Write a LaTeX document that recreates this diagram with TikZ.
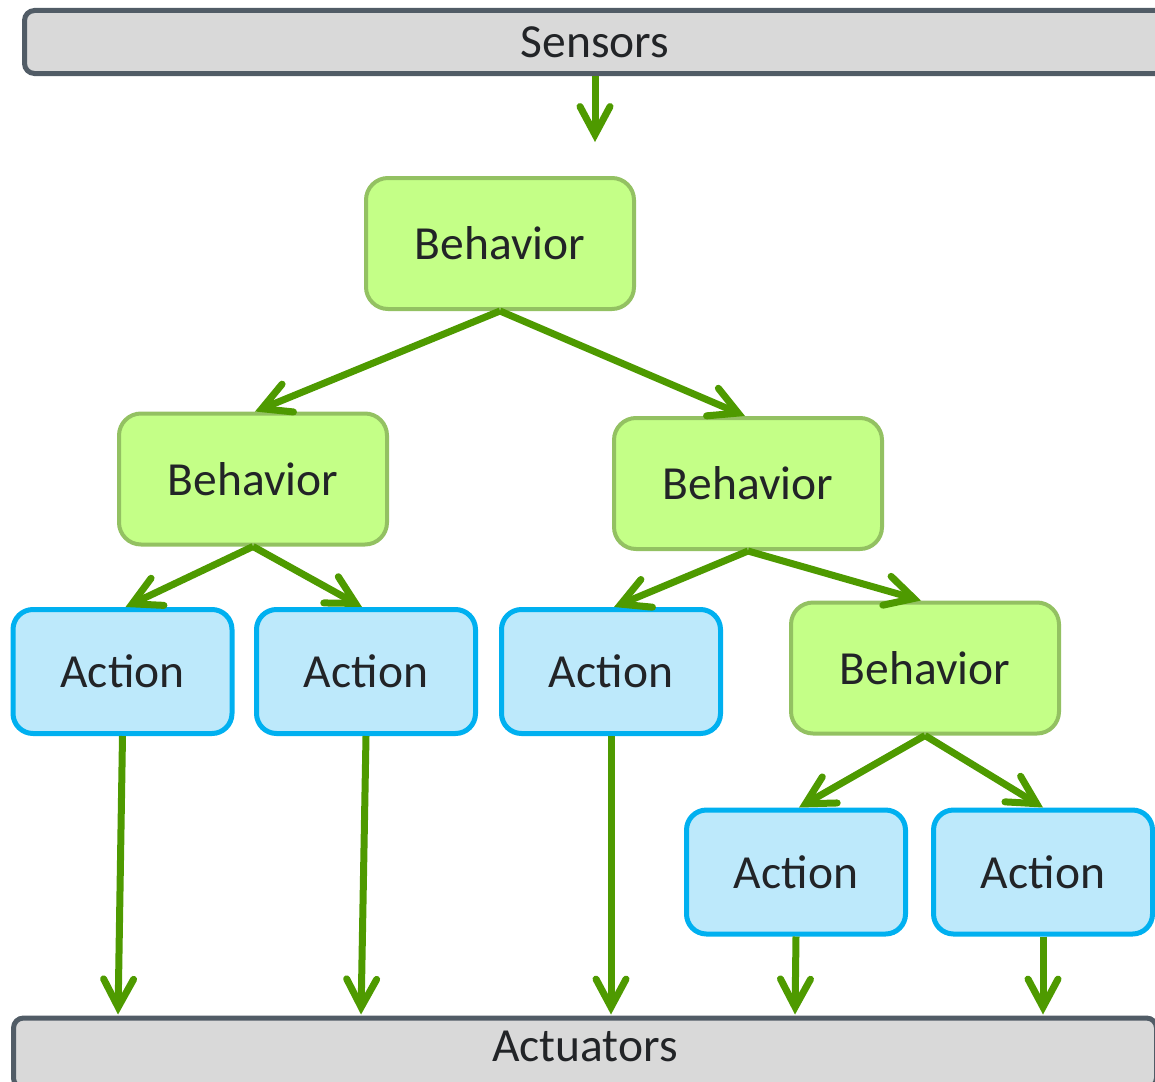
\documentclass[tikz,border=0pt]{standalone}
\usepackage{fontspec}
\setmainfont{Carlito}
\usetikzlibrary{arrows.meta}
\definecolor{arrowgreen}{HTML}{4E9A00}
\definecolor{behfill}{HTML}{C4FF87}
\definecolor{behdraw}{HTML}{93C162}
\definecolor{actfill}{HTML}{BDE9FB}
\definecolor{actdraw}{HTML}{00B0F0}
\definecolor{barfill}{HTML}{D9D9D9}
\definecolor{bardraw}{HTML}{515C66}
\definecolor{txt}{HTML}{222427}
\tikzset{
  every node/.style={font=\fontsize{47.5}{52}\selectfont, text=txt},
  behbox/.style={draw=behdraw, fill=behfill, line width=4pt, rounded corners=22pt,
    minimum width=268pt, minimum height=131pt, inner sep=0pt},
  actbox/.style={draw=actdraw, fill=actfill, line width=5pt, rounded corners=20pt,
    minimum width=219pt, minimum height=124pt, inner sep=0pt},
  barbox/.style={draw=bardraw, fill=barfill, line width=5pt, rounded corners=10pt, inner sep=0pt},
  conn/.style={draw=arrowgreen, line width=7pt,
    -{Straight Barb[length=28pt, width=30pt, line cap=round]}}
}
\begin{document}
\begin{tikzpicture}[x=1pt, y=-1pt]
\useasboundingbox (0,0) rectangle (1155,1081);
\clip (0,0) rectangle (1155,1081);
% bars
\node[barbox, minimum width=1141pt, minimum height=63pt] (sens) at (595,42) {Sensors};
\node[barbox, minimum width=1143pt, minimum height=70pt, text height=31pt, text depth=15pt] (act) at (585,1053) {Actuators};
% behaviors
\node[behbox] (b0) at (500,243.5) {Behavior};
\node[behbox] (b1) at (253,479) {Behavior};
\node[behbox] (b2) at (748,483.5) {Behavior};
\node[behbox] (b3) at (925,668) {Behavior};
% actions
\node[actbox] (a1) at (122.5,671.5) {Action};
\node[actbox] (a2) at (366,671.5) {Action};
\node[actbox] (a3) at (611,671.5) {Action};
\node[actbox] (a4) at (796,872) {Action};
\node[actbox] (a5) at (1043,872) {Action};
% free end / targets
\coordinate (s0) at (595,142);
\coordinate (t1) at (118,0);
\coordinate (t2) at (361,0);
\coordinate (t3) at (611,0);
\coordinate (t4) at (795,0);
\coordinate (t5) at (1043,0);
% connectors
\draw[conn] (sens.south -| s0) -- (s0);
\draw[conn] (b0.south) -- ([xshift=2pt]b1.north);
\draw[conn] (b0.south) -- ([xshift=-3pt]b2.north);
\draw[conn] (b1.south) -- ([xshift=3pt]a1.north);
\draw[conn] (b1.south) -- ([xshift=-4pt]a2.north);
\draw[conn] (b2.south) -- ([xshift=3pt]a3.north);
\draw[conn] (b2.south) -- ([xshift=-4pt]b3.north);
\draw[conn] (b3.south) -- ([xshift=3pt]a4.north);
\draw[conn] (b3.south) -- (a5.north);
\draw[conn, shorten >=1pt] (a1.south) -- (act.north -| t1);
\draw[conn, shorten >=1pt] (a2.south) -- (act.north -| t2);
\draw[conn, shorten >=1pt] (a3.south) -- (act.north -| t3);
\draw[conn, shorten >=1pt] (a4.south) -- (act.north -| t4);
\draw[conn, shorten >=1pt] (a5.south) -- (act.north -| t5);
\end{tikzpicture}
\end{document}
